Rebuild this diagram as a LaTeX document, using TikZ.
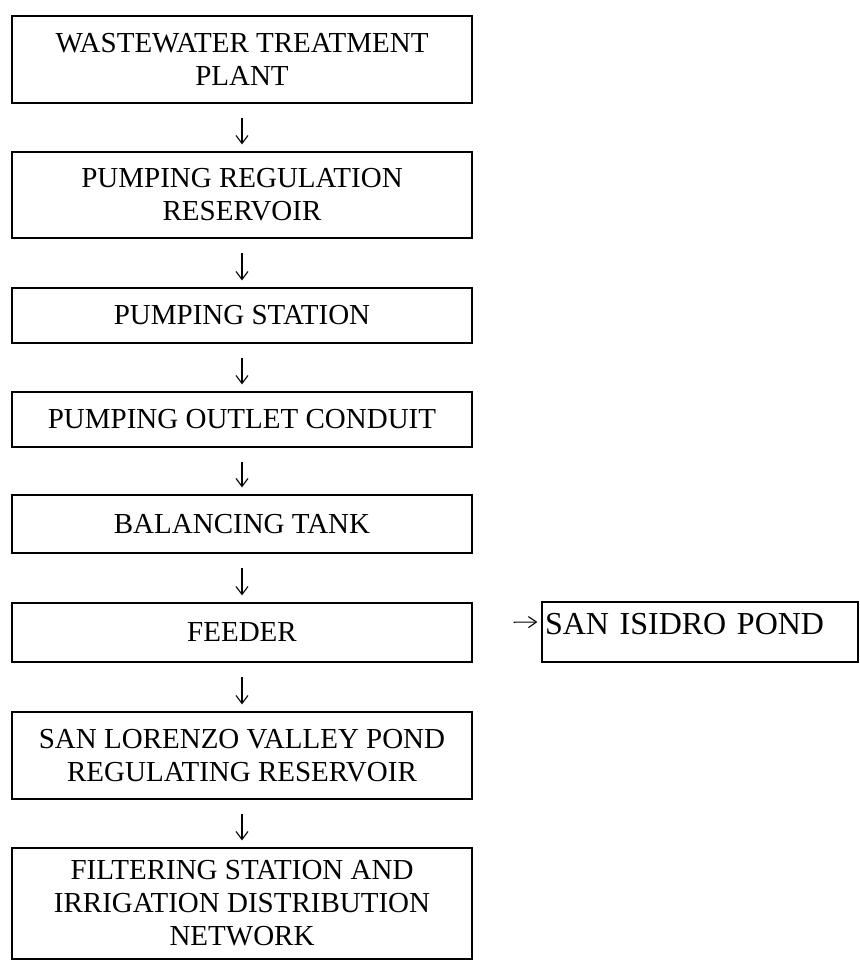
\documentclass[tikz,border=0pt]{standalone}
\usepackage{fontspec}
\setmainfont{Liberation Serif}
\usetikzlibrary{arrows.meta}
\begin{document}
\begin{tikzpicture}[x=1pt,y=1pt,
  flowbox/.style={draw, line width=1.2pt, minimum width=460pt, inner sep=0pt, align=center, font=\fontsize{29}{33}\selectfont},
  flowarrow/.style={-{Straight Barb[length=8pt,width=12pt,line width=1.1pt]}, line width=1.1pt, shorten <=14pt, shorten >=7pt},
  sidearrow/.style={-{Straight Barb[length=8pt,width=11pt,line width=1.1pt]}, line width=1.1pt, shorten <=41pt, shorten >=4pt}]
\useasboundingbox (0,0) rectangle (859,-960);
\node[flowbox, minimum height=87pt] (b1) at (242,-59.5) {WASTEWATER TREATMENT\\PLANT};
\node[flowbox, minimum height=86pt] (b2) at (242,-195) {PUMPING REGULATION\\RESERVOIR};
\node[flowbox, minimum height=55pt] (b3) at (242,-315.5) {PUMPING STATION};
\node[flowbox, minimum height=55pt] (b4) at (242,-419.5) {PUMPING OUTLET CONDUIT};
\node[flowbox, minimum height=58pt] (b5) at (242,-524) {BALANCING TANK};
\node[flowbox, minimum height=59pt] (b6) at (242,-632.5) {FEEDER};
\node[flowbox, minimum height=87pt] (b7) at (242,-755.5) {SAN LORENZO VALLEY POND\\REGULATING RESERVOIR};
\node[flowbox, minimum height=111pt] (b8) at (242,-903.5) {FILTERING STATION AND\\IRRIGATION DISTRIBUTION\\NETWORK};
\node[draw, line width=1.2pt, inner xsep=3pt, inner ysep=0pt, text width=310pt, align=left,
      text height=32pt, text depth=28pt, font=\fontsize{32}{36}\selectfont] (b9) at (700,-632) {SAN ISIDRO POND};
\draw[flowarrow] (b1) -- (b2);
\draw[flowarrow] (b2) -- (b3);
\draw[flowarrow] (b3) -- (b4);
\draw[flowarrow] (b4) -- (b5);
\draw[flowarrow] (b5) -- (b6);
\draw[flowarrow] (b6) -- (b7);
\draw[flowarrow] (b7) -- (b8);
\draw[sidearrow] ([yshift=10pt]b6.east) -- ([yshift=10pt]b9.west);
\end{tikzpicture}
\end{document}
